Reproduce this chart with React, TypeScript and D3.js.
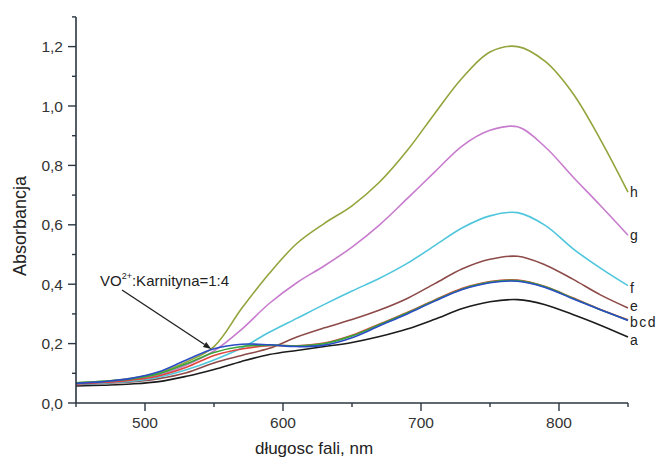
import React from "react";
import * as d3 from "d3";

// Wavelength grid (nm) shared by every spectrum
const wavelengths = [450, 470, 490, 510, 530, 550, 570, 590, 610, 630, 650, 670, 690, 710, 730, 750, 770, 790, 810, 830, 850];

// Absorbance of each solution at the wavelengths above
const seriesA = [0.057, 0.060, 0.064, 0.072, 0.090, 0.113, 0.140, 0.163, 0.177, 0.190, 0.204, 0.224, 0.249, 0.282, 0.318, 0.341, 0.348, 0.331, 0.298, 0.262, 0.222];
const seriesB = [0.068, 0.073, 0.081, 0.098, 0.132, 0.170, 0.190, 0.195, 0.192, 0.200, 0.226, 0.264, 0.303, 0.345, 0.384, 0.407, 0.412, 0.391, 0.353, 0.314, 0.279];
const seriesC = [0.064, 0.069, 0.077, 0.091, 0.120, 0.160, 0.182, 0.193, 0.193, 0.202, 0.228, 0.266, 0.305, 0.347, 0.386, 0.409, 0.414, 0.392, 0.354, 0.315, 0.280];
const seriesD = [0.066, 0.072, 0.083, 0.105, 0.145, 0.183, 0.198, 0.196, 0.190, 0.195, 0.220, 0.260, 0.300, 0.343, 0.382, 0.405, 0.410, 0.389, 0.351, 0.314, 0.278];
const seriesE = [0.062, 0.066, 0.071, 0.082, 0.102, 0.135, 0.160, 0.184, 0.222, 0.253, 0.281, 0.313, 0.352, 0.402, 0.452, 0.484, 0.494, 0.465, 0.417, 0.364, 0.320];
const seriesF = [0.063, 0.067, 0.073, 0.087, 0.112, 0.145, 0.185, 0.238, 0.285, 0.332, 0.377, 0.420, 0.470, 0.530, 0.590, 0.630, 0.641, 0.598, 0.520, 0.454, 0.395];
const seriesG = [0.065, 0.070, 0.078, 0.094, 0.128, 0.175, 0.248, 0.335, 0.405, 0.462, 0.525, 0.600, 0.688, 0.778, 0.866, 0.918, 0.930, 0.862, 0.762, 0.665, 0.565];
const seriesH = [0.068, 0.073, 0.083, 0.102, 0.138, 0.190, 0.318, 0.436, 0.537, 0.605, 0.664, 0.744, 0.850, 0.975, 1.095, 1.182, 1.200, 1.150, 1.043, 0.887, 0.710];

const seriesNames = ["a", "e", "f", "g", "h", "c", "b", "d"];
const seriesValues = [seriesA, seriesE, seriesF, seriesG, seriesH, seriesC, seriesB, seriesD];
const seriesColors = ["#1c1c1c", "#8c4a48", "#4fc6dc", "#c77ccd", "#93a43c", "#e0443c", "#3aa63a", "#2a4cc4"];

// End-of-line labels
const endLabels = ["h", "g", "f", "e", "bcd", "a"];
const endLabelValues = [seriesH, seriesG, seriesF, seriesE, seriesD, seriesA];
const endLabelShift = [0, 0, 2, -2, 2, 3];

const xMajorTicks = [500, 600, 700, 800];
const xMinorTicks = [450, 550, 650, 750, 850];
const yMajorTicks = [0, 0.2, 0.4, 0.6, 0.8, 1.0, 1.2];
const yMinorTicks = [0.1, 0.3, 0.5, 0.7, 0.9, 1.1, 1.3];

const xTitle = "długosc fali, nm";
const yTitle = "Absorbancja";

const WIDTH = 661;
const HEIGHT = 461;
const FONT = "Liberation Sans, Arial, sans-serif";
const AXIS_COLOR = "#2b3640";

export default function App() {
  const x = d3.scaleLinear().domain([450, 850]).range([76, 628]);
  const y = d3.scaleLinear().domain([0, 1.3]).range([403, 16.9]);

  const line = d3
    .line<number>()
    .x((_, i) => x(wavelengths[i]))
    .y((v) => y(v))
    .curve(d3.curveCatmullRom.alpha(0.5));

  const fmt = (v: number) => v.toFixed(1).replace(".", ",");

  // annotation arrow: from text towards the point where the curves split
  const arrowFrom = { x: 122, y: 290 };
  const arrowTo = { x: x(548), y: y(0.182) };
  const ang = Math.atan2(arrowTo.y - arrowFrom.y, arrowTo.x - arrowFrom.x);
  const headLen = 8;
  const headW = 3;
  const hx = arrowTo.x - headLen * Math.cos(ang);
  const hy = arrowTo.y - headLen * Math.sin(ang);
  const head = [
    [arrowTo.x, arrowTo.y],
    [hx + headW * Math.sin(ang), hy - headW * Math.cos(ang)],
    [hx - headW * Math.sin(ang), hy + headW * Math.cos(ang)],
  ]
    .map((p) => p.join(","))
    .join(" ");

  return (
    <svg
      width={WIDTH}
      height={HEIGHT}
      style={{ position: "absolute", left: 0, top: 0, background: "#fff" }}
      fontFamily={FONT}
    >
      {/* spectra */}
      {seriesValues.map((vals, i) => (
        <path
          key={seriesNames[i]}
          d={line(vals) || ""}
          fill="none"
          stroke={seriesColors[i]}
          strokeWidth={1.6}
        />
      ))}

      {/* axes */}
      <line x1={x(450)} x2={x(850)} y1={y(0)} y2={y(0)} stroke={AXIS_COLOR} strokeWidth={1.6} />
      <line x1={x(450)} x2={x(450)} y1={y(0)} y2={y(1.3)} stroke={AXIS_COLOR} strokeWidth={1.6} />

      {xMajorTicks.map((t) => (
        <g key={"xm" + t}>
          <line x1={x(t)} x2={x(t)} y1={y(0)} y2={y(0) + 8} stroke={AXIS_COLOR} strokeWidth={1.4} />
          <text x={x(t)} y={428} textAnchor="middle" fontSize={15.5} fill="#333">
            {t}
          </text>
        </g>
      ))}
      {xMinorTicks.map((t) => (
        <line key={"xn" + t} x1={x(t)} x2={x(t)} y1={y(0)} y2={y(0) + 4} stroke={AXIS_COLOR} strokeWidth={1.4} />
      ))}
      {yMajorTicks.map((t) => (
        <g key={"ym" + t}>
          <line x1={x(450) - 8} x2={x(450)} y1={y(t)} y2={y(t)} stroke={AXIS_COLOR} strokeWidth={1.4} />
          <text x={63} y={y(t)} dy="0.36em" textAnchor="end" fontSize={15.5} fill="#333">
            {fmt(t)}
          </text>
        </g>
      ))}
      {yMinorTicks.map((t) => (
        <line key={"yn" + t} x1={x(450) - 4} x2={x(450)} y1={y(t)} y2={y(t)} stroke={AXIS_COLOR} strokeWidth={1.4} />
      ))}

      {/* axis titles */}
      <text x={314} y={454} textAnchor="middle" fontSize={17} fill="#222">
        {xTitle}
      </text>
      <text
        transform={`translate(26, 226) rotate(-90)`}
        textAnchor="middle"
        fontSize={18}
        fill="#222"
      >
        {yTitle}
      </text>

      {/* curve labels */}
      {endLabels.map((lab, i) => (
        <text
          key={lab}
          x={630}
          y={y(endLabelValues[i][endLabelValues[i].length - 1]) + endLabelShift[i]}
          dy="0.35em"
          fontSize={14}
          fill="#222"
          letterSpacing={lab.length > 1 ? 1.5 : 0}
        >
          {lab}
        </text>
      ))}

      {/* annotation */}
      <text x={100} y={286} fontSize={15} fill="#222">
        VO
        <tspan dy={-7} fontSize={9}>
          2+
        </tspan>
        <tspan dy={7}>:Karnityna=1:4</tspan>
      </text>
      <line
        x1={arrowFrom.x}
        y1={arrowFrom.y}
        x2={hx}
        y2={hy}
        stroke="#222"
        strokeWidth={1.4}
      />
      <polygon points={head} fill="#222" />
    </svg>
  );
}
